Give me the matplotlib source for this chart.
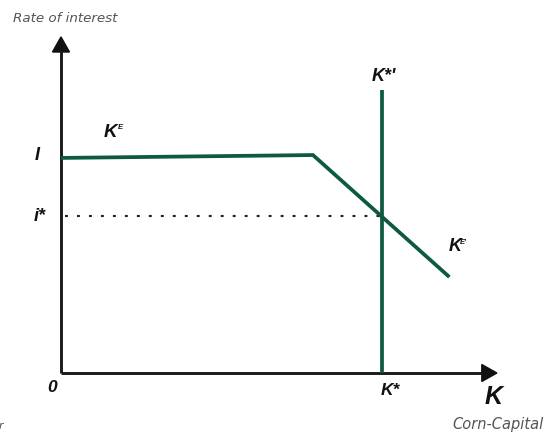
import matplotlib
matplotlib.use("Agg")
import matplotlib.pyplot as plt
from matplotlib.patches import FancyArrow

# ---- data (diagram units) ----
ke_x = [0.0, 7.85, 12.1]          # K^E schedule: flat then falling
ke_y = [6.70, 6.79, 2.99]
kstar = 10.0                      # vertical K*' line
kstar_top = 8.82
istar = 4.89                      # equilibrium rate i*
i_level = 6.72                    # rate I
x_axis_end = 13.58
y_axis_end = 10.47

GREEN = "#0e5a3e"
FONT = ["Liberation Sans", "DejaVu Sans"]
GFONT = ["DejaVu Sans"]

fig = plt.figure(figsize=(5.46, 4.34), dpi=100)
ax = fig.add_axes([0, 0, 1, 1])
ax.set_xlim(-1.9, 15.11)
ax.set_ylim(-1.9, 11.62)
ax.axis("off")

# axes with arrows
ax.plot([0, x_axis_end - 0.45], [0, 0], color="#1a1a1a", lw=2.1, solid_capstyle="butt")
ax.plot([0, 0], [0, y_axis_end - 0.45], color="#1a1a1a", lw=2.1, solid_capstyle="butt")
ax.add_patch(FancyArrow(x_axis_end - 0.47, 0, 0.47, 0, width=0, head_width=0.53,
                        head_length=0.47, length_includes_head=True, color="#111111"))
ax.add_patch(FancyArrow(0, y_axis_end - 0.47, 0, 0.47, width=0, head_width=0.53,
                        head_length=0.47, length_includes_head=True, color="#111111"))

# dotted i* line
ax.plot([0.12, kstar], [istar, istar], color="#222222", lw=1.5,
        linestyle=(0, (1.4, 4.35)), dash_capstyle="butt")

# K^E schedule
ax.plot(ke_x, ke_y, color=GREEN, lw=2.7, solid_capstyle="butt", solid_joinstyle="miter")
# K*' vertical
ax.plot([kstar, kstar], [0, kstar_top], color=GREEN, lw=2.7, solid_capstyle="butt")

# labels
tk = dict(family=FONT, style="italic", fontweight="bold", color="#111111")
gk = dict(family=GFONT, style="italic", color="#555555")
ax.text(-1.51, 11.03, "Rate of interest", fontsize=9.7, va="center", ha="left", **gk)
ax.text(12.2, -1.6, "Corn-Capital", fontsize=10.5, va="center", ha="left", **gk)
ax.text(-1.86, -1.65, "r", fontsize=8, va="center", ha="center", **gk)

ax.text(-0.75, 6.77, "I", fontsize=13, ha="center", va="center", **tk)
ax.text(-0.65, 4.87, "i*", fontsize=13, ha="center", va="center", **tk)
ax.text(-0.28, -0.44, "0", fontsize=12.5, ha="center", va="center", **tk)
ax.text(10.25, -0.56, "K*", fontsize=12.5, ha="center", va="center", **tk)
ax.text(13.48, -0.74, "K", fontsize=18, ha="center", va="center", **tk)

ax.text(1.53, 7.48, "K", fontsize=13.5, ha="center", va="center", **tk)
ax.text(1.84, 7.66, "E", fontsize=5.5, ha="center", va="center", **tk)
ax.text(kstar + 0.05, 9.25, "K*'", fontsize=13, ha="center", va="center", **tk)
ax.text(12.27, 3.93, "K", fontsize=13, ha="center", va="center", **tk)
ax.text(12.55, 4.08, "E'", fontsize=5.5, ha="center", va="center", **tk)

fig.savefig("out.png", dpi=100)
